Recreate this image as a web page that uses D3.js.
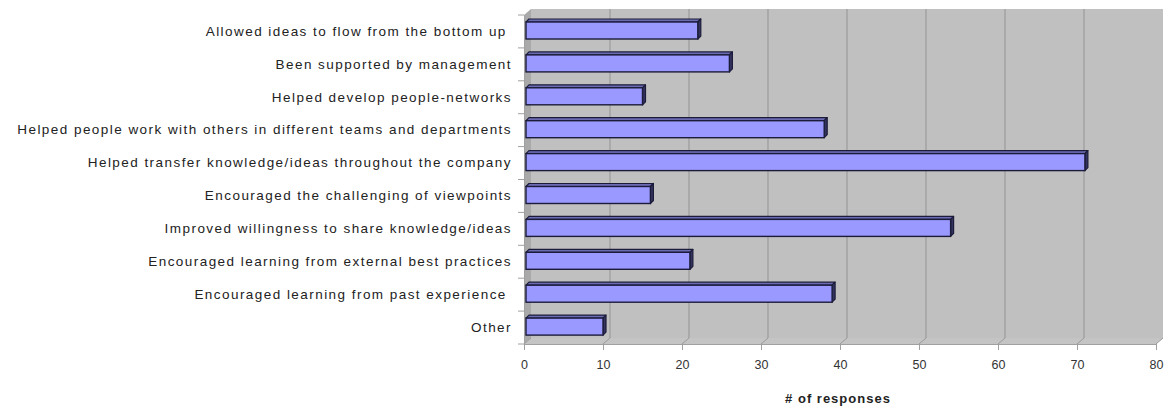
<!DOCTYPE html>
<html><head><meta charset="utf-8">
<script src="https://cdn.jsdelivr.net/npm/d3@7"></script>
<style>body{margin:0;background:#fff}svg{display:block}</style>
</head><body>
<svg id="c" width="1176" height="413"></svg>
<script>
const categories = [
  "Allowed ideas to flow from the bottom up ",
  "Been supported by management",
  "Helped develop people-networks",
  "Helped people work with others in different teams and departments",
  "Helped transfer knowledge/ideas throughout the company",
  "Encouraged the challenging of viewpoints",
  "Improved willingness to share knowledge/ideas",
  "Encouraged learning from external best practices",
  "Encouraged learning from past experience ",
  "Other"
];
const values = [22, 26, 15, 38, 71, 16, 54, 21, 39, 10];
const xTicks = [0, 10, 20, 30, 40, 50, 60, 70, 80];
const xTitle = "# of responses";

const svg = d3.select("#c");
const x = d3.scaleLinear().domain([0, 80]).range([524, 1156]);
const y = d3.scaleBand().domain(categories).range([15, 344]).padding(0);
const dx = 7, dy = -6;
const floorY = 344;
const topY = 15;

svg.append("rect").attr("x", x(0) + dx).attr("y", topY + dy).attr("width", x(80) - x(0)).attr("height", floorY - topY)
  .attr("fill", "#c0c0c0");
svg.append("polygon").attr("points", [[x(0), topY], [x(0) + dx, topY + dy], [x(0) + dx, floorY + dy], [x(0), floorY]].join(" "))
  .attr("fill", "#a9a9a9");
svg.append("polygon").attr("points", [[x(0), floorY], [x(0) + dx, floorY + dy], [x(80) + dx, floorY + dy], [x(80), floorY]].join(" "))
  .attr("fill", "#c4c4c4");
xTicks.forEach(t => {
  if (t > 0 && t < 80) {
    svg.append("line").attr("x1", x(t) + dx).attr("x2", x(t) + dx).attr("y1", topY + dy).attr("y2", floorY + dy)
      .attr("stroke", "#9a9a9a").attr("stroke-width", 1.2);
  }
  svg.append("line").attr("x1", x(t)).attr("y1", floorY).attr("x2", x(t) + dx).attr("y2", floorY + dy)
    .attr("stroke", "#9a9a9a").attr("stroke-width", 1);
});

const xAxis = d3.axisBottom(x).tickValues(xTicks).tickSize(6).tickPadding(10);
const gx = svg.append("g").attr("transform", `translate(0,${floorY})`).call(xAxis);
gx.select(".domain").attr("stroke", "#a0a0a0");
gx.selectAll(".tick line").attr("stroke", "#a0a0a0");
gx.selectAll("text").attr("font-family", "Liberation Sans, Arial, sans-serif").attr("font-size", 12.5).attr("fill", "#333");

const yAxis = d3.axisLeft(y).tickSize(0).tickPadding(12);
const gy = svg.append("g").attr("transform", `translate(${x(0)},0)`).call(yAxis);
gy.select(".domain").attr("stroke", "#a0a0a0");
gy.selectAll("text").attr("font-family", "Liberation Sans, Arial, sans-serif").attr("font-size", 13.5)
  .attr("fill", "#222").attr("letter-spacing", "1.45px").style("white-space", "pre");
const bounds = categories.map(c => y(c)).concat([y.range()[1]]);
svg.selectAll("line.ct").data(bounds).join("line").attr("class", "ct")
  .attr("x1", x(0) - 6).attr("x2", x(0)).attr("y1", d => d).attr("y2", d => d)
  .attr("stroke", "#a0a0a0");

const bw = 3, bh = 3;
const g = svg.append("g");
categories.forEach((c, i) => {
  const v = values[i];
  const y0 = y(c) + 7, y1 = y(c) + 24;
  const x0 = x(0) + 2, x1 = x(v);
  g.append("polygon").attr("points", [[x0, y0], [x0 + bw, y0 - bh], [x1 + bw, y0 - bh], [x1, y0]].join(" "))
    .attr("fill", "#6b6bb3").attr("stroke", "#1c1c3a").attr("stroke-width", 1.2).attr("stroke-linejoin", "round");
  g.append("polygon").attr("points", [[x1, y0], [x1 + bw, y0 - bh], [x1 + bw, y1 - bh], [x1, y1]].join(" "))
    .attr("fill", "#33335f").attr("stroke", "#1c1c3a").attr("stroke-width", 1.2).attr("stroke-linejoin", "round");
  g.append("rect").attr("x", x0).attr("y", y0).attr("width", x1 - x0).attr("height", y1 - y0)
    .attr("fill", "#9999ff").attr("stroke", "#1c1c3a").attr("stroke-width", 1.4);
});

svg.append("text").attr("x", 838).attr("y", 403).attr("text-anchor", "middle")
  .attr("font-family", "Liberation Sans, Arial, sans-serif").attr("font-weight", "bold").attr("font-size", 13)
  .attr("letter-spacing", "1px").attr("fill", "#222").text(xTitle);
</script>
</body></html>
